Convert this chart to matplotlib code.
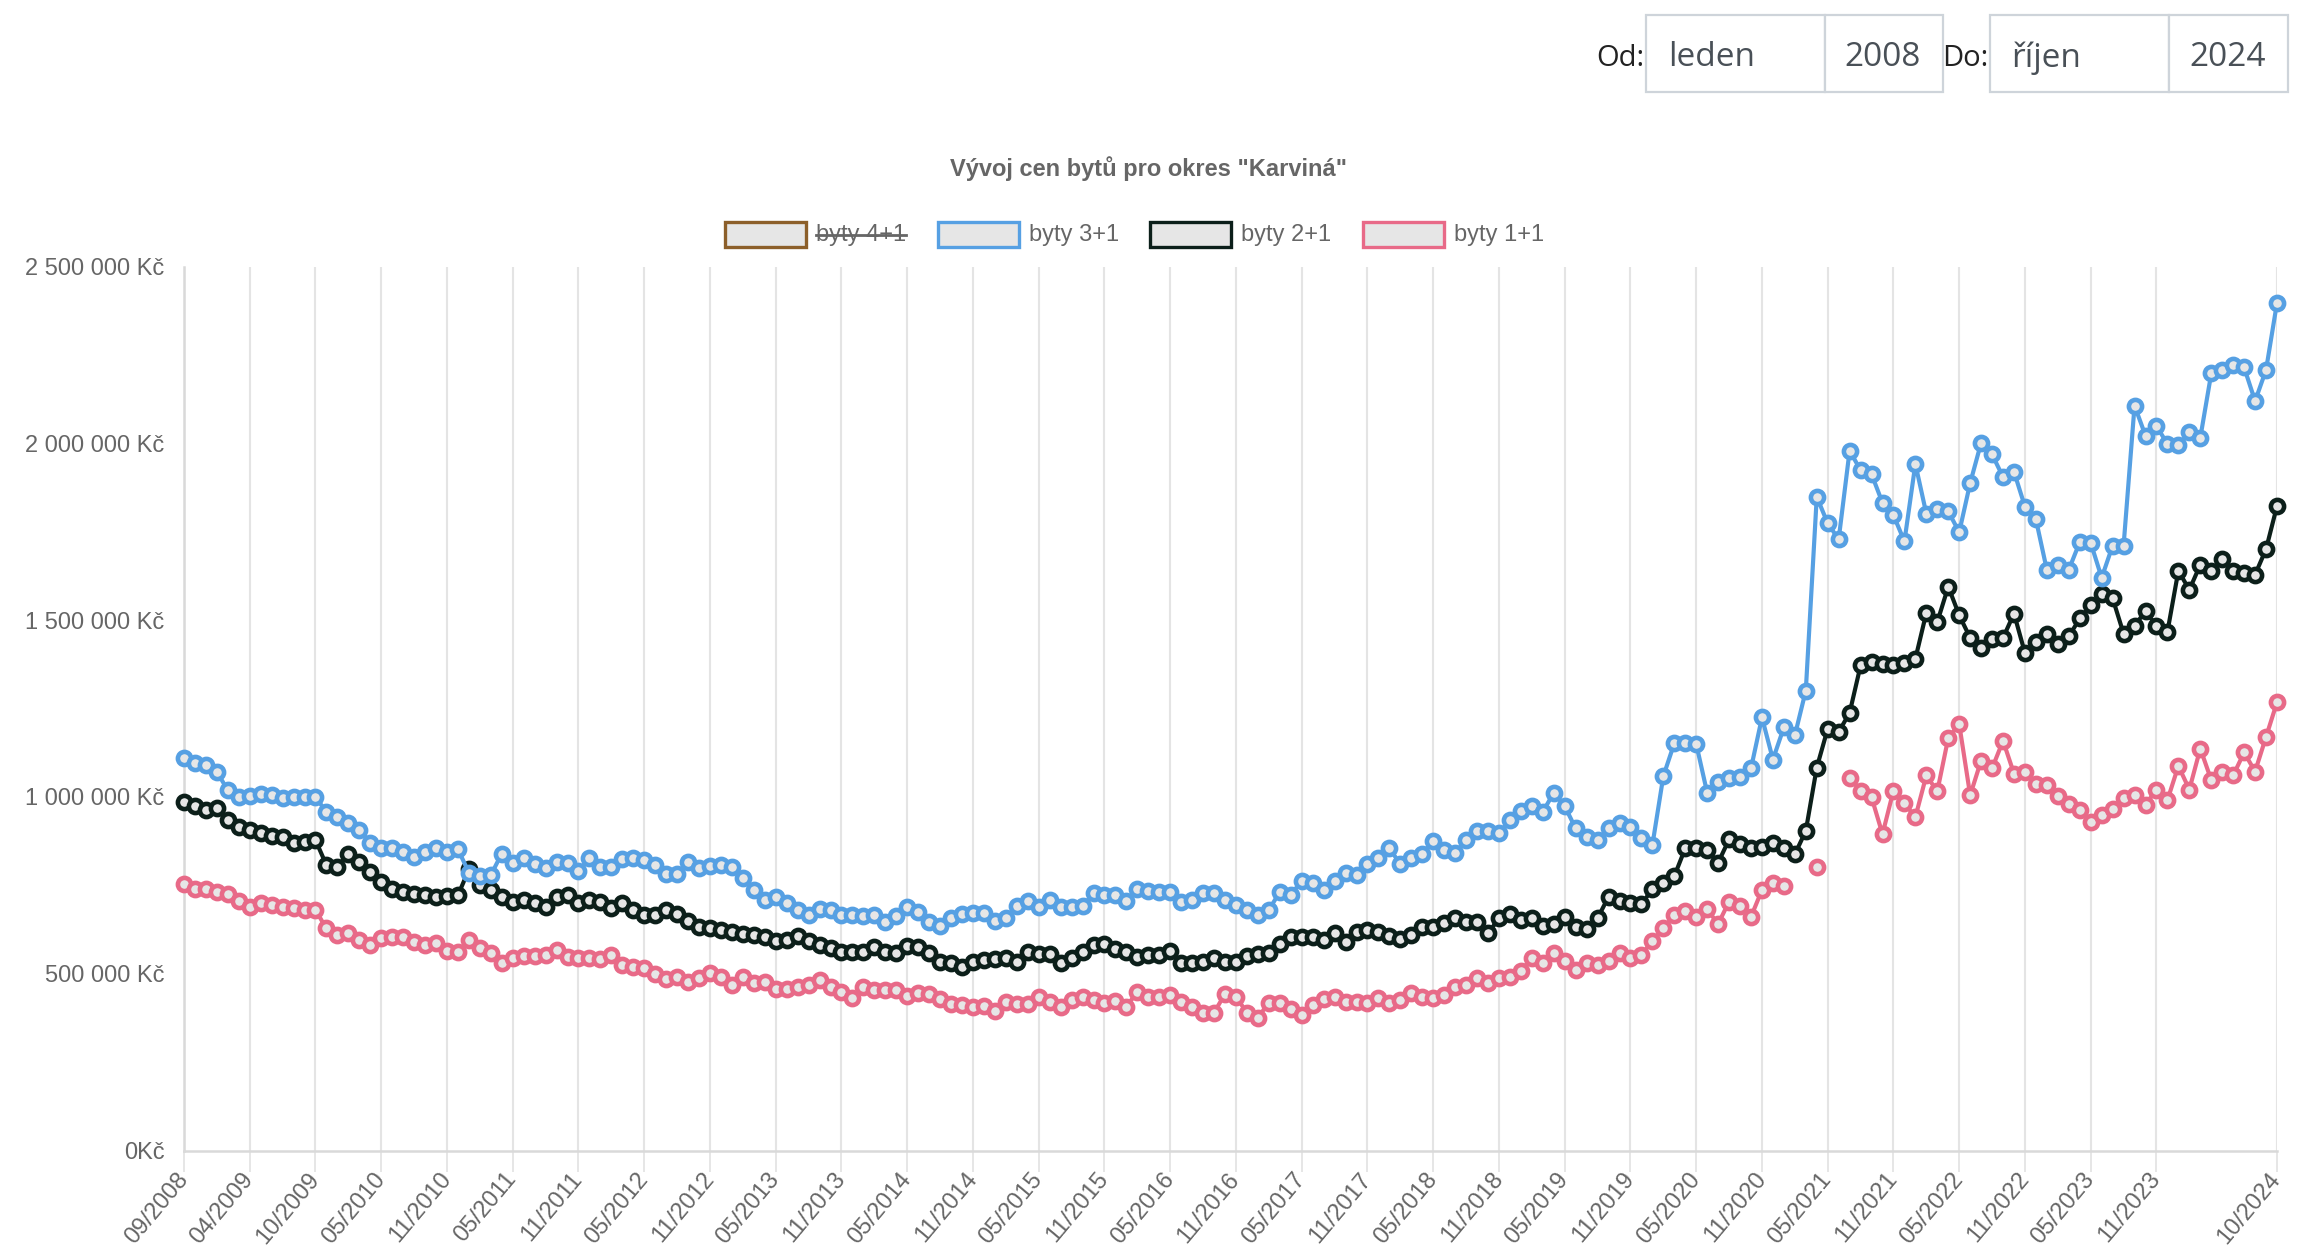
import numpy as np
import pandas as pd
import matplotlib
matplotlib.use("Agg")
import matplotlib.pyplot as plt
from matplotlib.patches import Rectangle

# months with data (01/2009 and 01/2010 missing in the source)
mesice = [m.strftime("%m/%Y") for m in pd.period_range("2008-09", "2024-10", freq="M")]
mesice = [m for m in mesice if m not in ("01/2009", "01/2010")]

# prices in thousands Kč
byty_3_1 = [1109, 1097, 1090, 1071, 1019, 1000, 1002, 1008, 1005, 996, 999, 999, 999, 958, 942, 925, 908, 870, 857, 855,
            845, 831, 845, 855, 843, 852, 786, 776, 779, 840, 812, 826, 810, 798, 817, 812, 791, 826, 803, 803,
            824, 826, 822, 807, 782, 782, 817, 798, 805, 807, 803, 770, 737, 710, 718, 699, 680, 666, 682, 680,
            666, 666, 663, 666, 647, 663, 688, 675, 647, 635, 657, 669, 673, 673, 650, 657, 691, 706, 689, 708,
            688, 688, 691, 727, 723, 723, 706, 741, 735, 732, 732, 704, 710, 727, 727, 708, 694, 680, 666, 680,
            732, 723, 763, 756, 737, 763, 786, 779, 810, 826, 855, 810, 826, 840, 876, 850, 842, 878, 904, 904,
            897, 935, 960, 974, 958, 1012, 974, 911, 887, 878, 911, 925, 916, 883, 864, 1059, 1152, 1152, 1150, 1012,
            1043, 1053, 1057, 1081, 1225, 1106, 1197, 1174, 1301, 1849, 1774, 1729, 1980, 1924, 1913, 1832, 1797, 1723, 1942, 1801,
            1816, 1808, 1749, 1888, 2002, 1969, 1905, 1920, 1821, 1785, 1642, 1656, 1643, 1721, 1719, 1620, 1711, 1711, 2107, 2022,
            2049, 1999, 1995, 2032, 2016, 2198, 2208, 2222, 2215, 2120, 2208, 2398]
byty_2_1 = [986, 974, 963, 968, 935, 914, 908, 897, 889, 886, 870, 873, 878, 807, 803, 840, 817, 788, 760, 741,
            732, 725, 723, 718, 720, 722, 795, 751, 737, 718, 704, 710, 699, 688, 718, 723, 699, 708, 704, 685,
            701, 680, 666, 666, 680, 669, 650, 631, 630, 624, 619, 612, 609, 605, 593, 595, 607, 593, 581, 572,
            562, 562, 562, 576, 562, 558, 578, 576, 558, 534, 531, 518, 534, 540, 541, 544, 534, 562, 556, 556,
            531, 544, 562, 581, 584, 569, 562, 548, 553, 553, 565, 529, 531, 534, 544, 534, 534, 550, 556, 558,
            584, 603, 603, 603, 595, 614, 590, 619, 624, 619, 607, 597, 609, 633, 633, 643, 657, 647, 647, 614,
            657, 669, 653, 657, 635, 641, 661, 633, 626, 657, 718, 706, 699, 697, 739, 757, 776, 855, 855, 850,
            814, 880, 867, 855, 859, 869, 857, 838, 904, 1083, 1193, 1184, 1238, 1372, 1383, 1376, 1372, 1379, 1391, 1521,
            1495, 1595, 1514, 1450, 1421, 1447, 1450, 1519, 1407, 1439, 1461, 1432, 1454, 1505, 1543, 1575, 1562, 1462, 1485, 1525,
            1485, 1467, 1640, 1586, 1657, 1638, 1674, 1638, 1633, 1629, 1701, 1823]
byty_1_1 = [754, 741, 741, 732, 725, 706, 689, 699, 694, 689, 685, 680, 680, 628, 609, 614, 595, 581, 600, 605,
            605, 590, 581, 586, 565, 562, 595, 572, 558, 531, 544, 550, 550, 553, 567, 548, 544, 544, 541, 553,
            525, 520, 515, 499, 484, 492, 477, 487, 501, 492, 468, 492, 473, 477, 456, 456, 462, 468, 482, 463,
            449, 430, 463, 454, 454, 454, 437, 445, 444, 428, 414, 411, 407, 409, 395, 421, 414, 414, 435, 421,
            405, 426, 435, 426, 418, 424, 407, 449, 435, 435, 440, 421, 407, 390, 390, 443, 435, 390, 376, 418,
            418, 399, 383, 411, 428, 433, 421, 421, 418, 430, 418, 426, 446, 433, 430, 440, 463, 468, 487, 475,
            487, 492, 508, 544, 531, 558, 537, 510, 531, 525, 537, 559, 544, 553, 593, 628, 666, 678, 661, 682,
            641, 704, 691, 661, 737, 757, 748, None, None, 801, None, None, 1055, 1018, 999, 895, 1018, 982, 943, 1061,
            1016, 1167, 1206, 1005, 1103, 1081, 1159, 1066, 1070, 1036, 1033, 1002, 980, 964, 930, 948, 967, 998, 1007, 978,
            1021, 991, 1088, 1021, 1137, 1048, 1070, 1061, 1126, 1072, 1170, 1268]

serie = ["byty 4+1", "byty 3+1", "byty 2+1", "byty 1+1"]
barvy = ["#8c5f2a", "#56a0e3", "#0c1f1a", "#e86a88"]

W, H = 2298, 1260
def fx(px): return px / W
def fy(py): return 1 - py / H

fig = plt.figure(figsize=(W / 100, H / 100), dpi=100)
ax = fig.add_axes([fx(184), fy(1150.5), (2277 - 184) / W, (1150.5 - 266.7) / H])

x = np.arange(len(mesice))
data = {
    "byty 3+1": np.array(byty_3_1, dtype=float) * 1000,
    "byty 2+1": np.array(byty_2_1, dtype=float) * 1000,
    "byty 1+1": np.array([np.nan if v is None else v for v in byty_1_1], dtype=float) * 1000,
}
for k, (name, col) in enumerate(zip(serie[1:], barvy[1:])):
    ax.plot(x, data[name], color=col, lw=3, marker="o", ms=9.5, mew=3.3,
            mfc="#e6e6e6", mec=col, zorder=10 - k, clip_on=False)

ax.set_xlim(0, len(mesice) - 1)
ax.set_ylim(0, 2500000)

ticks = list(range(0, 181, 6)) + [len(mesice) - 1]
ax.set_xticks(ticks)
ax.set_xticklabels([mesice[i] for i in ticks], rotation=50, ha="right",
                   va="center", rotation_mode="anchor")
yt = np.arange(0, 2500001, 500000)
ax.set_yticks(yt)
ax.set_yticklabels(["0Kč" if v == 0 else f"{v:,.0f}".replace(",", " ") + " Kč" for v in yt])

for lab in ax.get_xticklabels() + ax.get_yticklabels():
    lab.set_family("Liberation Sans")
ax.tick_params(axis="y", length=0, pad=14, labelsize=17, labelcolor="#666666")
ax.tick_params(axis="x", length=15, width=1.3, color="#e4e4e4", pad=3,
               labelsize=17, labelcolor="#666666")
ax.grid(axis="x", color="#e4e4e4", lw=1.5)
ax.set_axisbelow(True)
for s in ["top", "right"]:
    ax.spines[s].set_visible(False)
ax.spines["left"].set_color("#d9d9d9")
ax.spines["bottom"].set_color("#d9d9d9")
ax.spines["left"].set_linewidth(1.8)
ax.spines["bottom"].set_linewidth(1.8)

# title
fig.text(fx(1149), fy(169), 'Vývoj cen bytů pro okres "Karviná"', ha="center", va="center",
         fontsize=17, fontweight="bold", color="#666666", family="Liberation Sans")

# legend
leg_box = [725, 938, 1150, 1363]
for bx, name, col in zip(leg_box, serie, barvy):
    fig.patches.append(Rectangle((fx(bx), fy(247)), 81 / W, 25 / H, transform=fig.transFigure,
                                 facecolor="#e6e6e6", edgecolor=col, lw=2.4))
    t = fig.text(fx(bx + 91), fy(234.5), name, ha="left", va="center", fontsize=17,
                 color="#666666", family="Liberation Sans")
    if name == "byty 4+1":
        fig.canvas.draw()
        bb = t.get_window_extent()
        fig.add_artist(plt.Line2D([bb.x0 / W, bb.x1 / W], [fy(234.5), fy(234.5)],
                                  transform=fig.transFigure, color="#666666", lw=2))

# period selector at the top
boxes = [(1646, 1825, "leden", "left"), (1825, 1943, "2008", "right"),
         (1990, 2169, "říjen", "left"), (2169, 2288, "2024", "right")]
for x0, x1, txt, al in boxes:
    fig.patches.append(Rectangle((fx(x0), fy(92)), (x1 - x0) / W, 77 / H, transform=fig.transFigure,
                                 facecolor="white", edgecolor="#ced4da", lw=1.6))
    tx = x0 + 22 if al == "left" else x1 - 22
    fig.text(fx(tx), fy(58), txt, ha=al, va="center", fontsize=24, color="#495057", family="Open Sans")
fig.text(fx(1644), fy(58), "Od:", ha="right", va="center", fontsize=21, color="#222222", family="Open Sans")
fig.text(fx(1988), fy(58), "Do:", ha="right", va="center", fontsize=21, color="#222222", family="Open Sans")

fig.savefig("out.png", dpi=100)
